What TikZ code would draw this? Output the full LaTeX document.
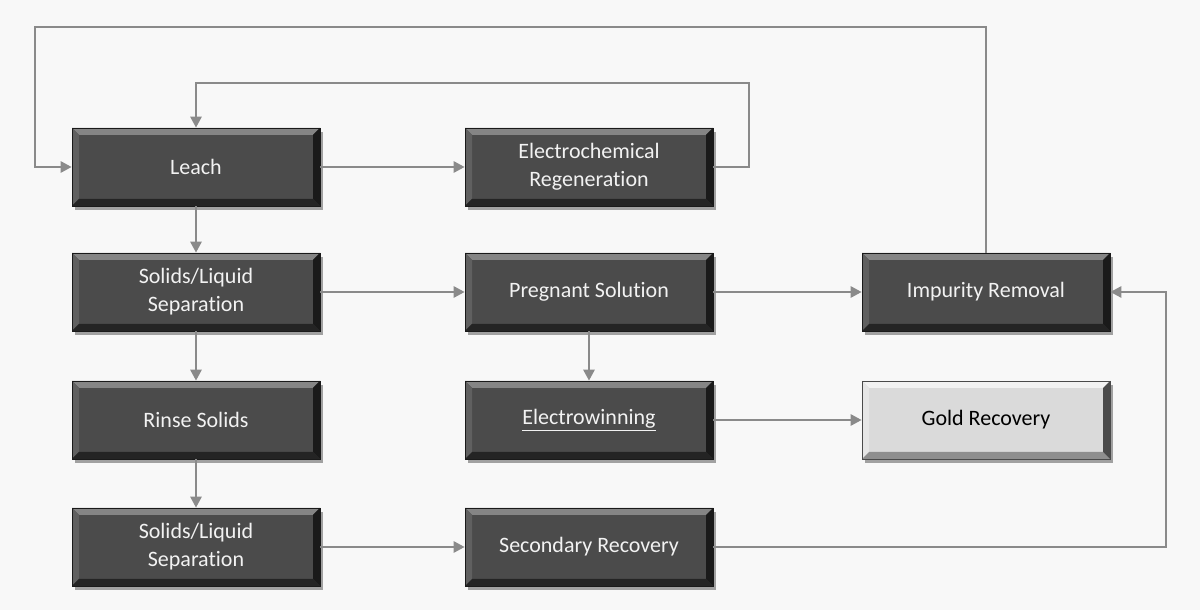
\documentclass[tikz,border=0pt]{standalone}
\usepackage{fontspec}
\setmainfont{Carlito}[Ligatures=NoCommon]
\usetikzlibrary{arrows.meta,shadows}
\definecolor{bgc}{HTML}{F8F8F8}
\definecolor{linec}{HTML}{8A8A8A}
\definecolor{darkface}{HTML}{4B4B4B}
\definecolor{darktop}{HTML}{858585}
\definecolor{darkleft}{HTML}{606060}
\definecolor{darkbot}{HTML}{242424}
\definecolor{darkright}{HTML}{1A1A1A}
\definecolor{lightface}{HTML}{DADADA}
\definecolor{lighttop}{HTML}{F2F2F2}
\definecolor{lightleft}{HTML}{E6E6E6}
\definecolor{lightbot}{HTML}{8E8E8E}
\definecolor{lightright}{HTML}{4A4A4A}
\definecolor{textc}{HTML}{F2F2F2}
\tikzset{
  bev/.style n args={4}{path picture={
    \fill[#1] (path picture bounding box.north west) -- (path picture bounding box.north east)
      -- ([shift={(-7pt,-7pt)}]path picture bounding box.north east)
      -- ([shift={(7pt,-7pt)}]path picture bounding box.north west) -- cycle;
    \fill[#2] (path picture bounding box.north west) -- ([shift={(7pt,-7pt)}]path picture bounding box.north west)
      -- ([shift={(7pt,7pt)}]path picture bounding box.south west)
      -- (path picture bounding box.south west) -- cycle;
    \fill[#3] (path picture bounding box.south west) -- (path picture bounding box.south east)
      -- ([shift={(-7pt,7pt)}]path picture bounding box.south east)
      -- ([shift={(7pt,7pt)}]path picture bounding box.south west) -- cycle;
    \fill[#4] (path picture bounding box.north east) -- ([shift={(-7pt,-7pt)}]path picture bounding box.north east)
      -- ([shift={(-7pt,7pt)}]path picture bounding box.south east)
      -- (path picture bounding box.south east) -- cycle;
  }},
  procbox/.style={rectangle, minimum width=248pt, minimum height=78pt, inner sep=0pt,
    align=center, font=\fontsize{22}{28}\selectfont,
    drop shadow={shadow xshift=3pt, shadow yshift=-4pt, opacity=0.35, fill=black}},
  darkbox/.style={procbox, fill=darkface, draw=darkright, line width=0.6pt, text=textc,
    bev={darktop}{darkleft}{darkbot}{darkright}},
  lightbox/.style={procbox, fill=lightface, draw=lightright, line width=0.6pt, text=black,
    bev={lighttop}{lightleft}{lightbot}{lightright}},
  flow/.style={draw=linec, line width=2.6pt, -{Triangle[length=11pt,width=11pt]}},
}
\begin{document}
\begin{tikzpicture}[x=1pt,y=1pt]
\fill[bgc] (0,0) rectangle (1200,610);
\useasboundingbox (0,0) rectangle (1200,610);

\node[darkbox] (leach) at (196,443) {Leach};
\node[darkbox] (sl1) at (196,318) {Solids/Liquid\\Separation};
\node[darkbox] (rinse) at (196,190) {Rinse Solids};
\node[darkbox] (sl2) at (196,63) {Solids/Liquid\\Separation};
\node[darkbox] (ec) at (589,443) {Electrochemical\\Regeneration};
\node[darkbox] (preg) at (589,318) {Pregnant Solution};
\node[darkbox] (ew) at (589,190) {\underline{Electrowinning}};
\node[darkbox] (sec) at (589,63) {Secondary Recovery};
\node[darkbox] (imp) at (986,318) {Impurity Removal};
\node[lightbox] (gold) at (986,190) {Gold Recovery};

\coordinate (tl) at (35,583);
\coordinate (c1) at (749,527);
\coordinate (c2) at (1166,318);

\draw[flow] (imp.north) |- (tl) |- (leach.west);
\draw[flow] (ec.east) -| (c1) -| (leach.north);
\draw[flow] (leach.east) -- (ec.west);
\draw[flow] (leach.south) -- (sl1.north);
\draw[flow] (sl1.east) -- (preg.west);
\draw[flow] (sl1.south) -- (rinse.north);
\draw[flow] (rinse.south) -- (sl2.north);
\draw[flow] (sl2.east) -- (sec.west);
\draw[flow] (preg.east) -- (imp.west);
\draw[flow] (preg.south) -- (ew.north);
\draw[flow] (ew.east) -- (gold.west);
\draw[flow] (sec.east) -| (c2) -- (imp.east);
\end{tikzpicture}
\end{document}
